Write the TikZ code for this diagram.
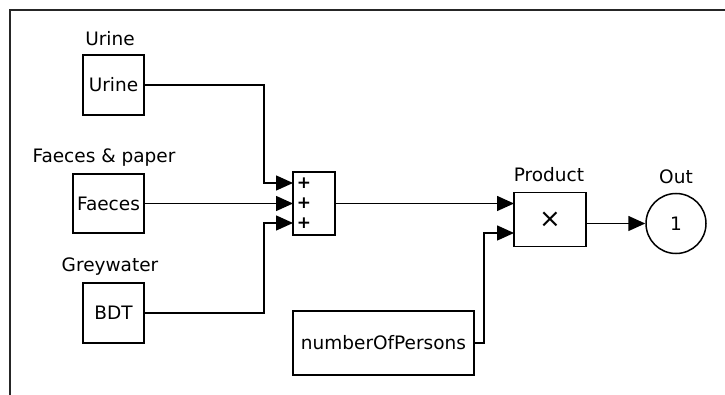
\documentclass[tikz,border=0pt]{standalone}
\usepackage{fontspec}
\setmainfont{DejaVu Sans}
\usetikzlibrary{arrows.meta}
\begin{document}
\begin{tikzpicture}[x=1pt,y=-1pt,
  blk/.style={draw,line width=1.5pt,rectangle,inner sep=0pt,font=\fontsize{18.5}{22}\selectfont},
  lbl/.style={inner sep=0pt,font=\fontsize{18.5}{22}\selectfont},
  wire/.style={line width=1.5pt},
  arr/.style={wire,-{Triangle[length=17pt,width=15pt]}},
  plus/.style={inner sep=0pt,font=\bfseries\fontsize{17}{20}\selectfont}]
\useasboundingbox (0,0) rectangle (725,395);
\draw[line width=1.2pt,black!85] (725,10) -- (10,10) -- (10,395);

\node[blk,minimum width=61pt,minimum height=60pt] (urine) at (113.5,85) {Urine};
\node[blk,minimum width=71pt,minimum height=59pt] (faeces) at (108.5,203.5) {Faeces};
\node[blk,minimum width=61pt,minimum height=60pt] (bdt) at (113.5,313) {BDT};
\node[blk,minimum width=42pt,minimum height=63pt] (sum) at (314,203.5) {};
\node[blk,minimum width=181pt,minimum height=64pt] (nop) at (383.5,343) {numberOfPersons};
\node[blk,minimum width=72pt,minimum height=54pt,font=\fontsize{26}{28}\selectfont] (prod) at (550,219.5) {×};
\node[blk,circle,minimum size=60pt] (out) at (676,223.5) {1};

\node[lbl] (lurine) at (110,39) {Urine};
\node[lbl] (lfaeces) at (104,158) {Faeces \& paper};
\node[lbl] (lgrey) at (110,267) {Greywater};
\node[lbl] (lprod) at (549,175) {Product};
\node[lbl] (lout) at (676,177) {Out};

\node[plus] (p1) at (304,183) {+};
\node[plus] (p2) at (304,203.5) {+};
\node[plus] (p3) at (304,223) {+};

\coordinate (in1) at (293,183);
\coordinate (in2) at (293,203.5);
\coordinate (in3) at (293,223);
\coordinate (q1) at (514,203.5);
\coordinate (q2) at (514,233);

\draw[arr] (urine.east) -| (264,183) -- (in1);
\draw[arr] (faeces.east) -- (in2);
\draw[arr] (bdt.east) -| (264,223) -- (in3);
\draw[arr] (sum.east) -- (q1);
\draw[arr] (nop.east) -| (484,233) -- (q2);
\draw[arr] (prod.east |- out.west) -- (out.west);
\end{tikzpicture}
\end{document}
